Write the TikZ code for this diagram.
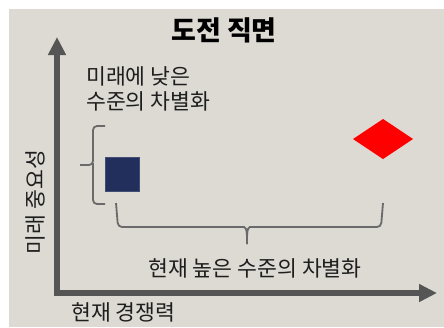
\documentclass[tikz,border=0pt]{standalone}
\usepackage{fontspec}
\setmainfont{Noto Sans CJK KR}
\usetikzlibrary{arrows.meta}
\definecolor{bg}{HTML}{DCDAD3}
\definecolor{axisgray}{HTML}{555555}
\definecolor{bracegray}{HTML}{6A6A6A}
\definecolor{navy}{HTML}{222E5C}
\definecolor{ink}{HTML}{1E1E1E}
\begin{document}
\begin{tikzpicture}[x=1pt,y=-1pt,
  lbl/.style={font=\fontsize{21.6}{25}\selectfont, text=ink, inner sep=0pt},
  ttl/.style={font=\bfseries\fontsize{27}{30}\selectfont, text=black, inner sep=0pt},
  axisline/.style={line width=5.5pt, draw=axisgray, line join=miter,
    {Triangle[length=18pt,width=17pt]}-{Triangle[length=18pt,width=17pt]}},
  bracel/.style={draw=bracegray, line width=1.8pt, rounded corners=4pt}]
\useasboundingbox (0,0) rectangle (444,327);
\fill[bg] (9,9) rectangle (444,327);
% title
\node[ttl] (title) at (224,30) {도전 직면};
% axes
\coordinate (ytip) at (57,37);
\coordinate (corner) at (57,293);
\coordinate (xtip) at (437,293);
\draw[axisline] (ytip) -- (corner) -- (xtip);
\node[lbl, rotate=90] (ylab) at (35,202) {미래 중요성};
\node[lbl, anchor=west] (xlab) at (71,312) {현재 경쟁력};
% texts
\node[lbl, anchor=west, align=left] (low) at (86,88.5) {미래에 낮은\\수준의 차별화};
\node[lbl] (high) at (255,268) {현재 높은 수준의 차별화};
% markers
\node[fill=navy, draw=navy!85!white, line width=0.6pt, minimum size=34pt, inner sep=0pt] (sq) at (122,174.5) {};
\coordinate (dl) at (353,139);
\coordinate (dt) at (383,119);
\coordinate (dr) at (413,139);
\coordinate (db) at (383,159);
\fill[red] (dl) -- (dt) -- (dr) -- (db) -- cycle;
% left brace
\coordinate (lb1) at (105,126);
\coordinate (lb2) at (105,204);
\coordinate (lbt) at (80,165);
\draw[bracel] (lb1) -- (93,126) -- (93,165) -- (lbt);
\draw[bracel] (93,163) -- (93,204) -- (lb2);
% bottom brace
\coordinate (bb1) at (116,203);
\coordinate (bb2) at (383,203);
\coordinate (bbt) at (247,244);
\draw[bracel] (bb1) -- (118,227) -- (240,227) to[out=0,in=90] (bbt);
\draw[bracel] (bb2) -- (381,227) -- (254,227) to[out=180,in=90] (bbt);
\end{tikzpicture}
\end{document}
